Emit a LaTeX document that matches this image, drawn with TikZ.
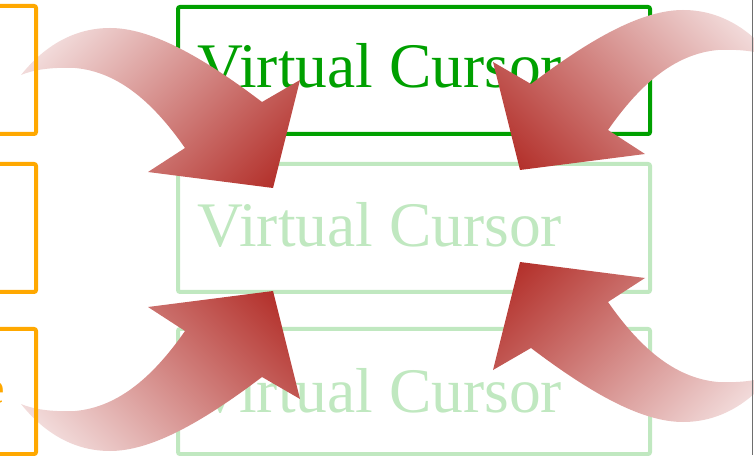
\documentclass[tikz,border=0pt]{standalone}
\usepackage{fontspec}
\setmainfont{Liberation Serif}
\definecolor{cgreen}{RGB}{0,160,0}
\definecolor{clight}{RGB}{192,232,192}
\definecolor{corange}{RGB}{255,168,0}
\definecolor{headc}{RGB}{174,34,28}
\definecolor{tailc}{RGB}{248,236,236}
\definecolor{framec}{RGB}{110,110,110}
\pgfdeclareverticalshading{arrowfade}{100bp}{color(0bp)=(headc); color(14bp)=(headc); color(84bp)=(tailc); color(100bp)=(tailc)}
\def\arrowshape{(21,-75) .. controls (45,-45) and (75,-28) .. (110,-28) .. controls (150,-28) and (200,-55) .. (262,-102) -- (300,-80) -- (273,-188) -- (148,-172) -- (185,-148) .. controls (155,-105) and (120,-72) .. (75,-68) .. controls (50,-67) and (33,-70) .. (21,-75) -- cycle}
\begin{document}
\begin{tikzpicture}[x=1pt,y=1pt,
  gbox/.style={draw=cgreen, line width=4pt, rounded corners=2pt, minimum width=472pt, inner sep=0pt, anchor=north west},
  lbox/.style={gbox, draw=clight},
  obox/.style={draw=corange, line width=4pt, rounded corners=2pt, minimum width=100pt, inner sep=0pt, anchor=north east},
  vlabel/.style={anchor=base west, inner sep=0pt, font=\fontsize{63.5}{70}\selectfont},
  bigarrow/.style={shading=arrowfade}]
\useasboundingbox (0,0) rectangle (754,455);
% green boxes
\node[gbox, minimum height=127pt] (g1) at (176,450) {};
\node[lbox, minimum height=128pt] (g2) at (176,293) {};
\node[lbox, minimum height=125pt] (g3) at (176,128) {};
\node[vlabel, text=cgreen] (t1) at (197,367) {Virtual Cursor};
\node[vlabel, text=clight] (t2) at (197,208) {Virtual Cursor};
\node[vlabel, text=clight] (t3) at (197,43) {Virtual Cursor};
% arrows
\begin{scope}[shift={(0,455)}]
  \shade[bigarrow, shading angle=45] \arrowshape;
\end{scope}
\begin{scope}[shift={(793,473)}, xscale=-1]
  \shade[bigarrow, shading angle=-45] \arrowshape;
\end{scope}
\begin{scope}[shift={(0,-24)}, yscale=-1]
  \shade[bigarrow, shading angle=135] \arrowshape;
\end{scope}
\begin{scope}[shift={(793,5)}, xscale=-1, yscale=-1]
  \shade[bigarrow, shading angle=225] \arrowshape;
\end{scope}
% orange boxes
\node[obox, minimum height=128pt] (o1) at (38,451) {};
\node[obox, minimum height=128pt] (o2) at (38,293) {};
\node[obox, minimum height=125pt] (o3) at (38,128) {};
\node[anchor=base east, inner sep=0pt, text=corange, font=\fontsize{46}{50}\selectfont] (oe) at (5,52) {e};
% frame edge
\coordinate (ft) at (752.5,455);
\coordinate (fb) at (752.5,0);
\draw[framec, line width=1.3pt] (ft) -- (fb);
\end{tikzpicture}
\end{document}
